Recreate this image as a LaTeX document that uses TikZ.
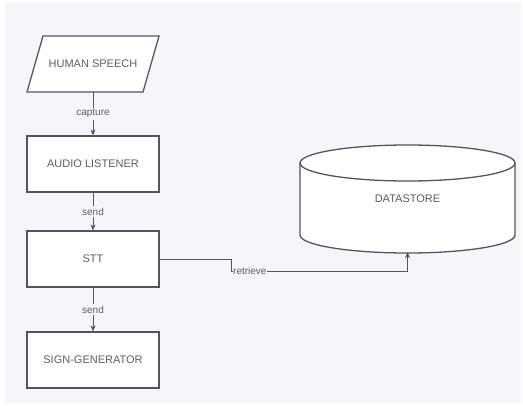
\documentclass[tikz,border=0pt]{standalone}
\usepackage{fontspec}
\setmainfont{Liberation Sans}
\usetikzlibrary{arrows.meta}
\definecolor{canvas}{HTML}{F5F6FA}
\definecolor{edge}{HTML}{51555F}
\definecolor{ink}{HTML}{5A5E66}
\begin{document}
\begin{tikzpicture}[x=1pt,y=-1pt,
  box/.style={draw=edge,line width=1.3pt,fill=white,minimum width=132pt,minimum height=56pt,
    inner sep=0pt,font=\fontsize{11}{13}\selectfont,text=ink},
  ghost/.style={minimum width=132pt,minimum height=56pt,inner sep=0pt,
    font=\fontsize{11}{13}\selectfont,text=ink},
  link/.style={draw=edge,line width=0.8pt,-{Stealth[length=6pt,width=5pt]}},
  tag/.style={fill=canvas,inner sep=1.5pt,font=\fontsize{10}{12}\selectfont,text=ink}]
  % page and backdrop
  \useasboundingbox (0,0) rectangle (523,405);
  \fill[white] (0,0) rectangle (523,405);
  \fill[canvas] (5,3) rectangle (521,403);

  % input parallelogram
  \filldraw[draw=edge,fill=white,line width=1.3pt,line join=miter]
    (43,36) -- (159,36) -- (143,92) -- (27,92) -- cycle;
  \node[ghost] (hs) at (93,64) {HUMAN SPEECH};

  % processing boxes
  \node[box] (al) at (93,164) {AUDIO LISTENER};
  \node[box] (stt) at (93,259) {STT};
  \node[box] (sg) at (93,360) {SIGN-GENERATOR};

  % datastore cylinder
  \filldraw[draw=edge,fill=white,line width=1.3pt]
    (300,163) -- (300,235) arc[start angle=180,end angle=360,x radius=107.5pt,y radius=18pt]
    -- (515,163) arc[start angle=0,end angle=180,x radius=107.5pt,y radius=18pt] -- cycle;
  \draw[edge,line width=1.3pt] (300,163) arc[start angle=180,end angle=360,x radius=107.5pt,y radius=18pt];
  \node[ghost,minimum width=215pt,minimum height=108pt] (ds) at (407.5,199) {DATASTORE};

  % connectors
  \draw[link] (hs.south) -- node[tag] {capture} (al.north);
  \draw[link] (al.south) -- node[tag] {send} (stt.north);
  \draw[link] (stt.south) -- node[tag] {send} (sg.north);

  \coordinate (bendA) at (231,259);
  \coordinate (bendB) at (231,271);
  \coordinate (bendC) at (ds.south |- bendB);
  \draw[link] (stt.east) -- (bendA) -- (bendB) -- (bendC) -- ([yshift=1pt]ds.south);
  \node[tag,anchor=west,inner xsep=0.5pt] (rt) at ([xshift=1.5pt]bendB) {retrieve};
\end{tikzpicture}
\end{document}
